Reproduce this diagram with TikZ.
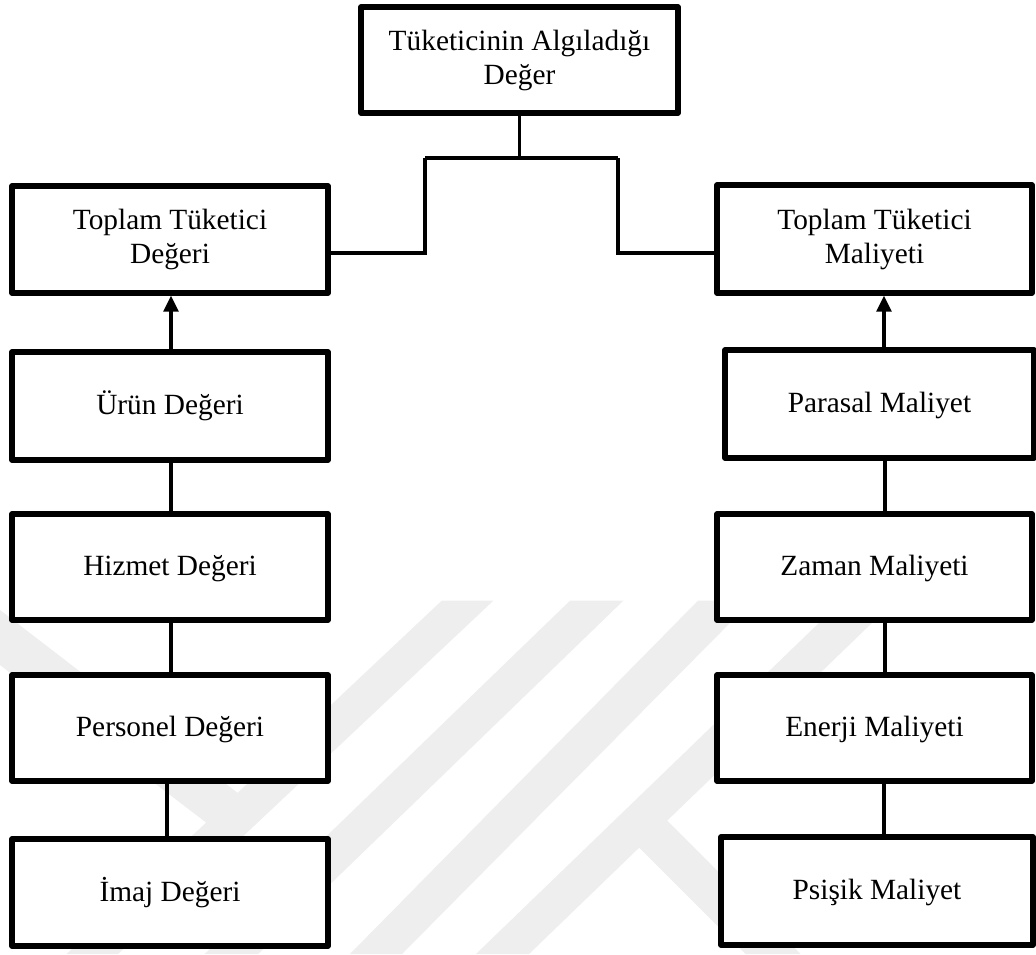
\documentclass[tikz,border=0pt]{standalone}
\usepackage{fontspec}
\setmainfont{Liberation Serif}
\usetikzlibrary{arrows.meta}
\definecolor{wm}{RGB}{238,238,238}
\newcommand{\lineone}[1]{\vphantom{Üy}#1}
\begin{document}
\begin{tikzpicture}[x=0.75pt,y=-0.75pt,
  box/.style={draw, line width=3.9pt, fill=white, line join=round, align=center,
    inner sep=0pt, minimum width=237pt, minimum height=80pt,
    font=\fontsize{22}{25.5}\selectfont},
  link/.style={line width=2.5pt},
  arr/.style={link, -{Triangle[width=11pt,length=12pt]}}]

% page area
\fill[white] (0,0) rectangle (1036,954);
\useasboundingbox (0,0) rectangle (1036,954);

% faint background emblem
\begin{scope}[fill=wm]
  \fill (441.7,600.7) -- (493.3,600.7) -- (118,954) -- (66.6,954) -- cycle;
  \fill (0,610) -- (243,797) -- (212,827) -- (0,665) -- cycle;
  \fill (570,600.7) -- (623.3,600.7) -- (258,954) -- (204.7,954) -- cycle;
  \fill (698,600.7) -- (752,600.7) -- (402,954) -- (350,954) -- cycle;
  \fill (842,600.7) -- (895,600.7) -- (529,954) -- (476,954) -- cycle;
  \fill (656,809.3) -- (800.7,954) -- (745.6,954) -- (628,836.4) -- cycle;
\end{scope}

% boxes
\node[box, minimum width=237.75pt, minimum height=79.5pt] (top) at (519.5,60)
  {Tüketicinin Algıladığı\\Değer};
\node[box, minimum height=80.25pt] (tl) at (170,239.5) {Toplam Tüketici\\Değeri};
\node[box, minimum width=236.25pt, minimum height=81pt] (tr) at (874.5,239)
  {Toplam Tüketici\\Maliyeti};

\node[box, minimum height=81pt] (urun) at (170,406) {\lineone{Ürün Değeri}};
\node[box, minimum height=79.5pt] (hizmet) at (170,567) {\lineone{Hizmet Değeri}};
\node[box, minimum height=79.5pt] (personel) at (170,728) {\lineone{Personel Değeri}};
\node[box, minimum height=80.25pt] (imaj) at (170,892.5) {\lineone{İmaj Değeri}};

\node[box, minimum width=231.75pt, minimum height=81pt] (parasal) at (879.5,404) {\lineone{Parasal Maliyet}};
\node[box, minimum width=236.25pt, minimum height=79.5pt] (zaman) at (874.5,567) {\lineone{Zaman Maliyeti}};
\node[box, minimum width=236.25pt, minimum height=79.5pt] (enerji) at (874.5,728) {\lineone{Enerji Maliyeti}};
\node[box, minimum width=234pt, minimum height=81pt] (psisik) at (877,891) {\lineone{Psişik Maliyet}};

% branch from the top box
\coordinate (jt) at (519.5,158);
\coordinate (jl) at (425,253);
\coordinate (jr) at (618,253);
\draw[link] (top.south) -- (jt);
\draw[link] (jl |- jt) -- (jr |- jt);
\draw[link] (jl |- jt) -- (jl) -- (jl -| tl.east);
\draw[link] (jr |- jt) -- (jr) -- (jr -| tr.west);

% left column
\coordinate (cl) at (171,0);
\coordinate (cl2) at (167,0);
\draw[arr] (urun.north -| cl) -- (tl.south -| cl);
\draw[link] (urun.south -| cl) -- (hizmet.north -| cl);
\draw[link] (hizmet.south -| cl) -- (personel.north -| cl);
\draw[link] (personel.south -| cl2) -- (imaj.north -| cl2);

% right column
\coordinate (cr) at (885,0);
\coordinate (cr2) at (884,0);
\draw[arr] (parasal.north -| cr2) -- (tr.south -| cr2);
\draw[link] (parasal.south -| cr) -- (zaman.north -| cr);
\draw[link] (zaman.south -| cr) -- (enerji.north -| cr);
\draw[link] (enerji.south -| cr2) -- (psisik.north -| cr2);
\end{tikzpicture}
\end{document}
